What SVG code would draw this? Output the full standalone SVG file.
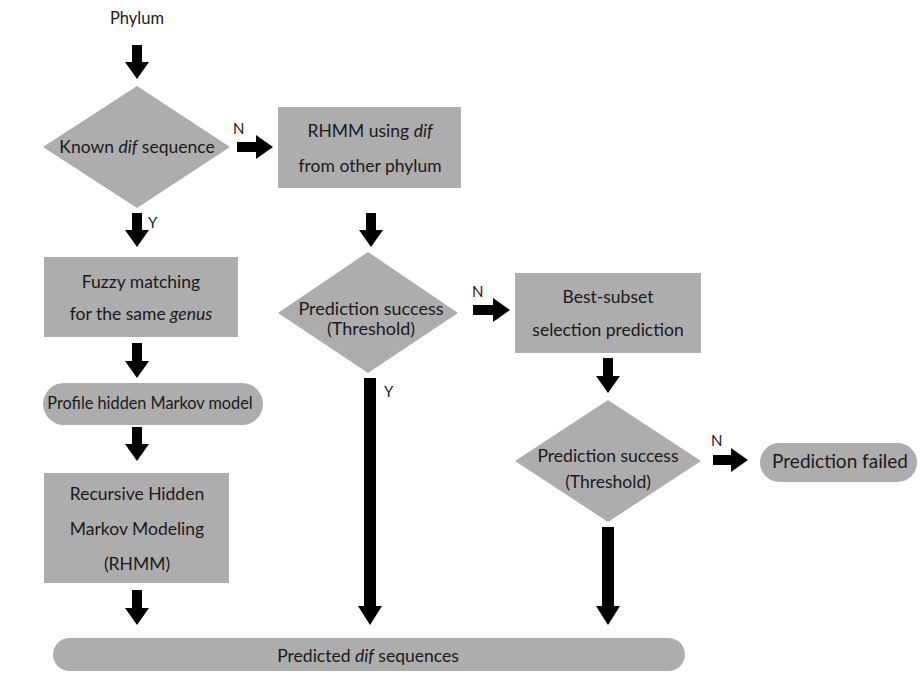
<svg xmlns="http://www.w3.org/2000/svg" width="923" height="673" viewBox="0 0 923 673">
<style>
.n{fill:#adadad}
.t{font-family:Lato,"Open Sans","Liberation Sans",sans-serif;font-size:17.5px;fill:#1a1a1a;text-anchor:middle}
.l{font-family:Lato,"Liberation Sans",sans-serif;font-size:15px;fill:#1a1a1a}
.a{fill:#000}
</style>
<rect width="923" height="673" fill="#fff"/>
<g id="phylum"><text class="t" x="137" y="24" style="font-size:16.5px">Phylum</text></g>
<g id="known"><polygon class="n" points="137,86 230,147 137,208 43,147"/><text class="t" x="137" y="153">Known <tspan font-style="italic">dif</tspan> sequence</text></g>
<g id="rhmm-other"><rect class="n" x="278" y="107" width="183" height="81"/><text class="t" x="370" y="137">RHMM using <tspan font-style="italic">dif</tspan></text><text class="t" x="370" y="172">from other phylum</text></g>
<g id="fuzzy"><rect class="n" x="44" y="257" width="194" height="80"/><text class="t" x="141" y="288">Fuzzy matching</text><text class="t" x="141" y="320">for the same <tspan font-style="italic">genus</tspan></text></g>
<g id="profile"><rect class="n" x="43" y="383" width="220" height="42" rx="21"/><text class="t" x="150" y="409" style="font-size:16.3px">Profile hidden Markov model</text></g>
<g id="recursive"><rect class="n" x="44" y="473" width="185" height="110"/><text class="t" x="137" y="500">Recursive Hidden</text><text class="t" x="137" y="535">Markov Modeling</text><text class="t" x="137" y="570">(RHMM)</text></g>
<g id="success1"><polygon class="n" points="368,252 458,313 368,373 278,313"/><text class="t" x="371" y="315" style="font-size:18px">Prediction success</text><text class="t" x="371" y="335" style="font-size:18px">(Threshold)</text></g>
<g id="bestsubset"><rect class="n" x="515" y="273" width="186" height="80"/><text class="t" x="608" y="303">Best-subset</text><text class="t" x="608" y="336">selection prediction</text></g>
<g id="success2"><polygon class="n" points="608,400 701,461 608,522 515,461"/><text class="t" x="608" y="462">Prediction success</text><text class="t" x="608" y="488">(Threshold)</text></g>
<g id="failed"><rect class="n" x="760" y="443" width="157" height="39" rx="19.5"/><text class="t" x="840" y="468" style="font-size:19px">Prediction failed</text></g>
<g id="predicted"><rect class="n" x="53" y="638" width="632" height="33" rx="16.5"/><text class="t" x="368" y="662">Predicted <tspan font-style="italic">dif</tspan> sequences</text></g>
<g id="connectors">
<polygon class="a" points="132,45 142,45 142,62 149,62 137,79 125,62 132,62"/>
<polygon class="a" points="237,142 256,142 256,135 273,147 256,159 256,152 237,152"/>
<text class="l" x="233" y="134">N</text>
<polygon class="a" points="132,213 142,213 142,230 149,230 137,247 125,230 132,230"/>
<text class="l" x="148" y="228">Y</text>
<polygon class="a" points="366,213 376,213 376,230 383,230 371,247 359,230 366,230"/>
<polygon class="a" points="132,343 142,343 142,361 149,361 137,378 125,361 132,361"/>
<polygon class="a" points="132,427 142,427 142,444 149,444 137,461 125,444 132,444"/>
<polygon class="a" points="132,590 142,590 142,608 149,608 137,625 125,608 132,608"/>
<polygon class="a" points="364,378 376,378 376,606 382,606 370,625 358,606 364,606"/>
<text class="l" x="384" y="397">Y</text>
<polygon class="a" points="473,305 493,305 493,298 510,310 493,322 493,315 473,315"/>
<text class="l" x="472" y="297">N</text>
<polygon class="a" points="603,358 613,358 613,376 620,376 608,393 596,376 603,376"/>
<polygon class="a" points="713,455 731,455 731,448 748,460 731,472 731,465 713,465"/>
<text class="l" x="711" y="446">N</text>
<polygon class="a" points="602,527 614,527 614,606 620,606 608,625 596,606 602,606"/>
</g>
</svg>
